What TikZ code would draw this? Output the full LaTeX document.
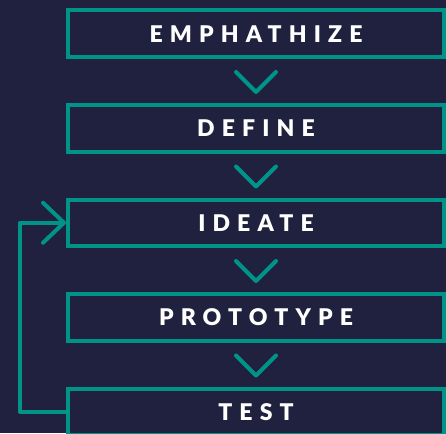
\documentclass[tikz,border=0pt]{standalone}
\usepackage{fontspec}
\newfontfamily\stagefont{Lato Black}[LetterSpace=31]
\usetikzlibrary{arrows.meta,calc}
\definecolor{bg}{HTML}{1F213E}
\definecolor{teal}{HTML}{009488}
\begin{document}
\begin{tikzpicture}[x=1pt,y=-1pt,
  stage/.style={draw=teal,line width=4pt,minimum width=376pt,minimum height=46.5pt,inner sep=0pt,
    text=white,font=\stagefont\fontsize{23}{23}\selectfont},
  chev/.style={draw=teal,line width=4pt,line cap=round,line join=round},
  back/.style={draw=teal,line width=4pt,line join=round,
    -{Straight Barb[length=21pt,width=40pt,line cap=round,round]}}]
\fill[bg] (0,0) rectangle (446,433);
\useasboundingbox (0,0) rectangle (446,433);
\clip (0,0) rectangle (446,433);
\node[stage] (emp) at (256,33.75) {EMPHATHIZE};
\node[stage] (def) at (256,128.25) {DEFINE};
\node[stage] (ide) at (256,222.75) {IDEATE};
\node[stage] (pro) at (256,317.25) {PROTOTYPE};
\node[stage] (tes) at (256,411.75) {TEST};
\foreach \n in {emp,def,ide,pro}{
  \draw[chev] ($(\n.south)+(-20,13)$) -- ($(\n.south)+(0,33)$) -- ($(\n.south)+(20,13)$);
}
\coordinate (c1) at (20,411.75);
\coordinate (c2) at (20,222.75);
\draw[back] (tes.west) -- (c1) -- (c2) -- (ide.west);
\end{tikzpicture}
\end{document}
